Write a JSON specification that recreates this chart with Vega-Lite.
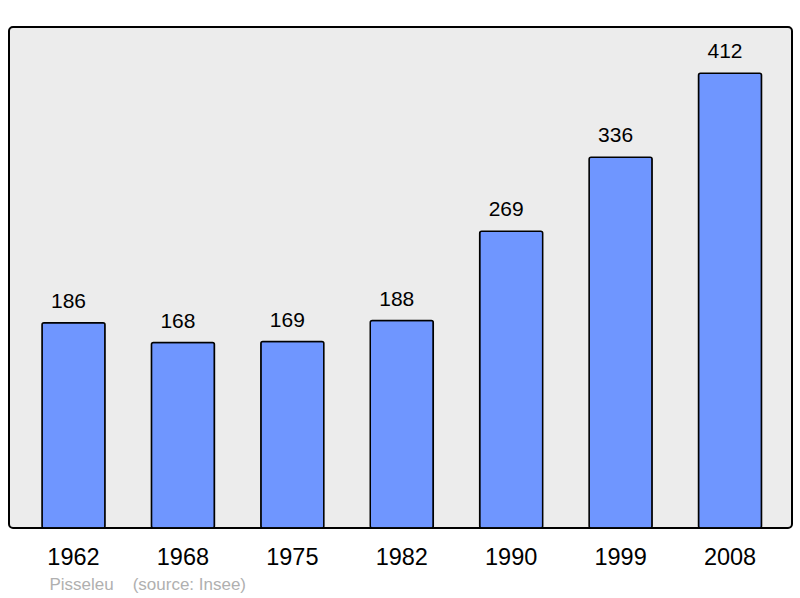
{
  "$schema": "https://vega.github.io/schema/vega-lite/v6.json",
  "autosize": {"type": "none"},
  "padding": {"left": 9, "top": 27, "right": 8, "bottom": 70},
  "width": 783,
  "height": 501,
  "background": "#ffffff",
  "config": {
    "view": {"stroke": "#000000", "strokeWidth": 2, "fill": "#ececec", "cornerRadius": 4},
    "font": "Liberation Sans"
  },
  "data": {
    "values": [
      {"year": "1962", "population": 186},
      {"year": "1968", "population": 168},
      {"year": "1975", "population": 169},
      {"year": "1982", "population": 188},
      {"year": "1990", "population": 269},
      {"year": "1999", "population": 336},
      {"year": "2008", "population": 412}
    ]
  },
  "encoding": {
    "x": {
      "field": "year",
      "type": "ordinal",
      "sort": null,
      "scale": {"paddingInner": 0.424, "paddingOuter": 0.29, "align": 0.52},
      "axis": {
        "title": "Pisseleu\u00a0\u00a0\u00a0\u00a0(source: Insee)",
        "titleX": 40,
        "titleY": 61,
        "titleAlign": "left",
        "titleBaseline": "alphabetic",
        "titleFontSize": 17,
        "titleFontWeight": "normal",
        "titleColor": "#b0b0b0",
        "titleFont": "Liberation Sans",
        "domain": false,
        "ticks": false,
        "tickSize": 0,
        "labelPadding": 36,
        "labelBaseline": "alphabetic",
        "labelFontSize": 23.5,
        "labelColor": "#000000",
        "labelAngle": 0,
        "labelFont": "Liberation Sans"
      }
    },
    "y": {
      "field": "population",
      "type": "quantitative",
      "scale": {"domain": [0, 454], "nice": false},
      "axis": null
    }
  },
  "layer": [
    {
      "mark": {"type": "bar", "fill": "#6f96ff", "stroke": "#000000", "strokeWidth": 1.5, "cornerRadius": 2}
    },
    {
      "mark": {"type": "text", "baseline": "alphabetic", "dy": -15, "dx": -5, "fontSize": 21, "color": "#000000", "font": "Liberation Sans"},
      "encoding": {"text": {"field": "population", "type": "quantitative"}}
    }
  ]
}
